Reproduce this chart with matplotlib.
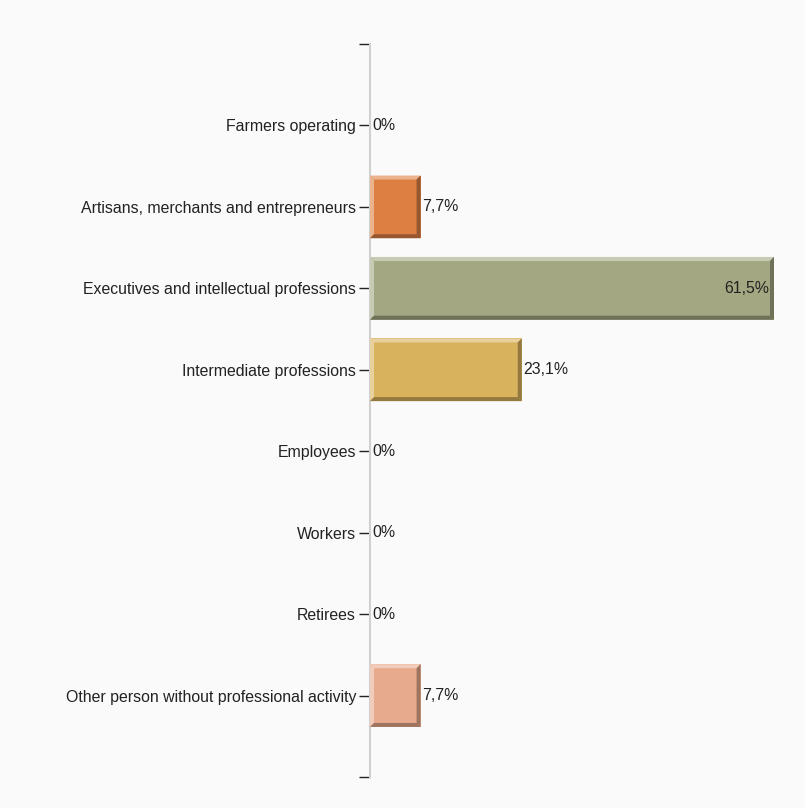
import matplotlib
matplotlib.use("Agg")
import matplotlib.pyplot as plt
from matplotlib.patches import Polygon
import matplotlib.colors as mcolors

categories = ["Farmers operating", "Artisans, merchants and entrepreneurs",
              "Executives and intellectual professions", "Intermediate professions",
              "Employees", "Workers", "Retirees", "Other person without professional activity"]
values = [0, 7.7, 61.5, 23.1, 0, 0, 0, 7.7]
labels = ["0%", "7,7%", "61,5%", "23,1%", "0%", "0%", "0%", "7,7%"]
colors = ["#8aa0c8", "#dd7f43", "#a3a882", "#d8b25c", "#8aa0c8", "#8aa0c8", "#8aa0c8", "#e8aa8c"]

plt.rcParams['font.family'] = ['Liberation Sans', 'DejaVu Sans']

W, H = 805, 808
fig = plt.figure(figsize=(W/100, H/100), dpi=100, facecolor="#fafafa")
left, right, top, bottom = 370, 774, 44, 777
ax = fig.add_axes([left/W, 1-bottom/H, (right-left)/W, (bottom-top)/H])
ax.set_facecolor("#fafafa")
n = len(categories)
ax.set_xlim(0, max(values))
ax.set_ylim(n, -1)

ypos = list(range(n))
bh = 0.77
ax.barh(ypos, values, height=bh, color=colors, edgecolor="none", zorder=2)

# bevel
px = max(values) / (right-left)
py = (n+1) / (bottom-top)
bw = 4
for y, v, c in zip(ypos, values, colors):
    if v <= 0:
        continue
    rgb = mcolors.to_rgb(c)
    light = tuple(1 - (1-x)*0.6 for x in rgb)
    dark = tuple(x*0.68 for x in rgb)
    x0, x1 = 0, v
    yt, yb = y - bh/2, y + bh/2
    dx, dy = bw*px, bw*py
    ax.add_patch(Polygon([(x0, yt), (x1, yt), (x1-dx, yt+dy), (x0+dx, yt+dy)], closed=True, color=light, lw=0, zorder=3))
    ax.add_patch(Polygon([(x0, yt), (x0+dx, yt+dy), (x0+dx, yb-dy), (x0, yb)], closed=True, color=light, lw=0, zorder=3))
    ax.add_patch(Polygon([(x1, yt), (x1, yb), (x1-dx, yb-dy), (x1-dx, yt+dy)], closed=True, color=dark, lw=0, zorder=3))
    ax.add_patch(Polygon([(x0, yb), (x1, yb), (x1-dx, yb-dy), (x0+dx, yb-dy)], closed=True, color=dark, lw=0, zorder=3))

fs = 11.4
for y, v, lab in zip(ypos, values, labels):
    if v > 50:
        ax.text(v - 5*px, y, lab, ha="right", va="center", fontsize=fs, color="#222222", zorder=4)
    else:
        ax.text(v + 2*px, y, lab, ha="left", va="center", fontsize=fs, color="#222222", zorder=4)

ax.set_yticks([-1] + ypos + [n])
ax.set_yticklabels([""] + categories + [""], fontsize=fs, color="#222222")
ax.set_xticks([])
for s in ["top", "right", "bottom"]:
    ax.spines[s].set_visible(False)
ax.spines["left"].set_color("#d0d0d0")
ax.spines["left"].set_linewidth(1.5)
ax.tick_params(axis="y", length=8, width=1, color="#222222", pad=2)

fig.savefig("out.png", dpi=100, facecolor=fig.get_facecolor())
